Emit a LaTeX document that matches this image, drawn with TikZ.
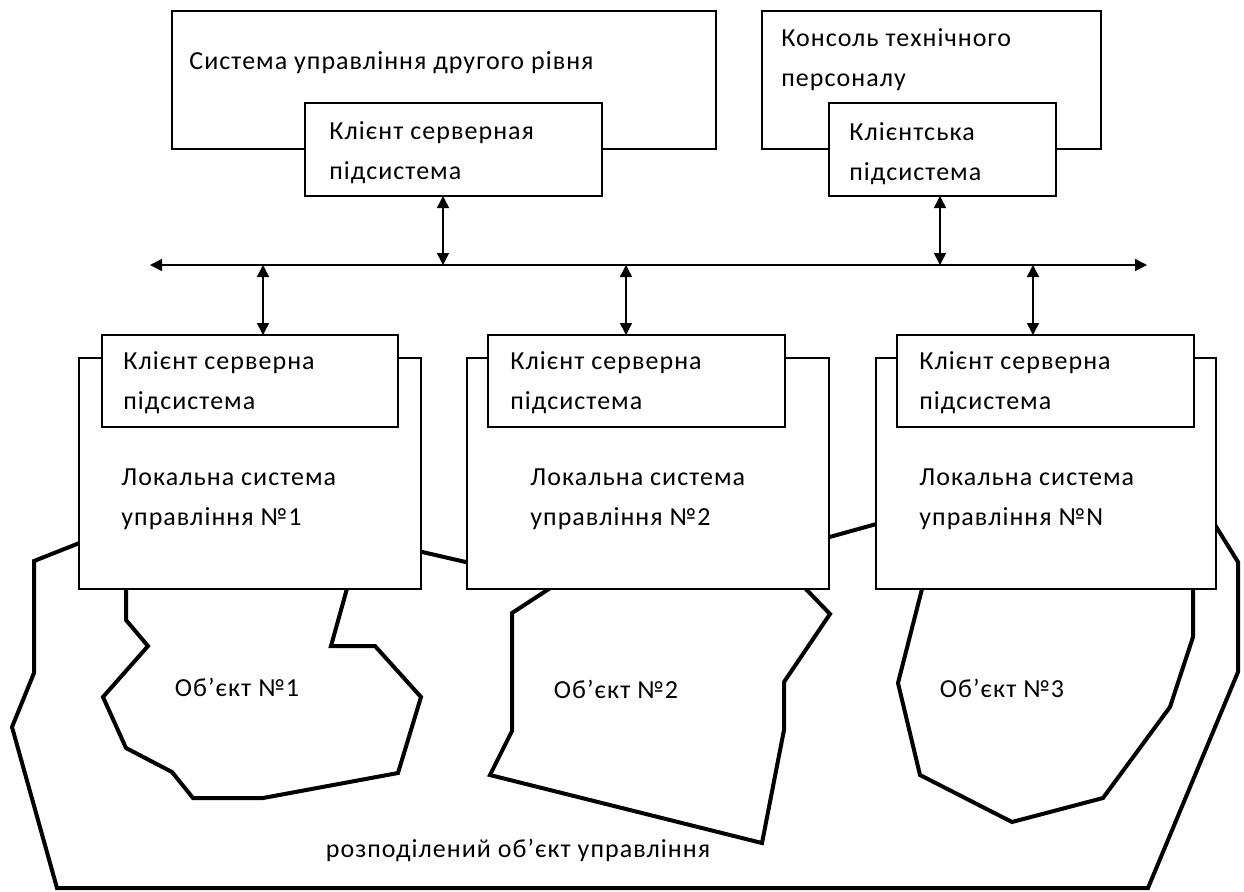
\documentclass[tikz,border=0pt]{standalone}
\usepackage{fontspec}
\setmainfont[LetterSpace=4]{Carlito}
\usetikzlibrary{arrows.meta}

\begin{document}
\begin{tikzpicture}[x=0.5pt,y=-0.5pt,
  box/.style={draw,fill=white,line width=0.75pt,inner sep=0pt,outer sep=0pt},
  lbl/.style={font=\fontsize{13}{20}\selectfont,align=left,inner sep=0pt,anchor=west},
  edge/.style={line width=2pt,line join=miter},
  link/.style={line width=0.75pt,{Triangle[length=6pt,width=6pt]}-{Triangle[length=6pt,width=6pt]}}]
  \useasboundingbox (0,0) rectangle (1244,891);

  % Draw distributed control object
  \draw[edge] (82,542) -- (34,561) -- (34,673) -- (12,727) -- (57,888) -- (1148,888) -- (1238,672) -- (1238,562) -- (1212,520) -- (880,523) -- (826,538) -- (470,563) -- (418,551) -- cycle;
  \node[lbl,anchor=center] (tall) at (518,850) {розподілений об’єкт управління};

  % Draw objects
  \draw[edge] (126,585) -- (126,620) -- (148,646) -- (103,697) -- (126,748) -- (172,772) -- (193,798) -- (263,798) -- (398,773) -- (421,697) -- (375,646) -- (331,646) -- (348,585);
  \draw[edge] (555,585) -- (512,613) -- (512,731) -- (490,775) -- (762,843) -- (784,730) -- (784,682) -- (830,614) -- (802,585);
  \draw[edge] (923,585) -- (898,683) -- (920,775) -- (1012,822) -- (1103,798) -- (1170,707) -- (1193,637) -- (1193,585);
  \node[lbl,anchor=center] (tob1) at (237,687) {Об’єкт №1};
  \node[lbl,anchor=center] (tob2) at (616,689) {Об’єкт №2};
  \node[lbl,anchor=center] (tob3) at (1002,688) {Об’єкт №3};

  % Top level systems
  \node[box,minimum width=272pt,minimum height=69pt] (sys) at (444,80) {};
  \node[lbl] (tsys) at (189,63) {Система управління другого рівня};
  \node[box,minimum width=148.5pt,minimum height=46.5pt] (cs0) at (453.5,149.5) {};
  \node[lbl] (tcs0) at (329,153) {Клієнт серверная\\підсистема};
  \node[box,minimum width=169.5pt,minimum height=69pt] (con) at (931.5,80) {};
  \node[lbl] (tcon) at (781,60) {Консоль технічного\\персоналу};
  \node[box,minimum width=113.5pt,minimum height=46.5pt] (ccl) at (942.5,149.5) {};
  \node[lbl] (tccl) at (849,154) {Клієнтська\\підсистема};

  % Local systems
  \node[box,minimum width=171pt,minimum height=115.5pt] (loc1) at (250,473.5) {};
  \node[box,minimum width=148pt,minimum height=46pt] (cs1) at (250,381) {};
  \node[lbl] (tcs1) at (123,383) {Клієнт серверна\\підсистема};
  \node[lbl] (tloc1) at (121,499) {Локальна система\\управління №1};
  \node[box,minimum width=181pt,minimum height=115.5pt] (loc2) at (648,473.5) {};
  \node[box,minimum width=148.5pt,minimum height=46pt] (cs2) at (636.5,381) {};
  \node[lbl] (tcs2) at (510,383) {Клієнт серверна\\підсистема};
  \node[lbl] (tloc2) at (530,499) {Локальна система\\управління №2};
  \node[box,minimum width=170pt,minimum height=115.5pt] (loc3) at (1046,473.5) {};
  \node[box,minimum width=148.5pt,minimum height=46pt] (cs3) at (1045.5,381) {};
  \node[lbl] (tcs3) at (919,383) {Клієнт серверна\\підсистема};
  \node[lbl] (tloc3) at (919,499) {Локальна система\\управління №N};

  % Bus and links
  \coordinate (busL) at (150,265);
  \coordinate (busR) at (1147,265);
  \draw[link] (busL) -- (busR);
  \draw[link] (cs0.south -| 443,0) -- (busL -| 443,0);
  \draw[link] (ccl.south -| 940,0) -- (busL -| 940,0);
  \draw[link] (busL -| 263,0) -- (cs1.north -| 263,0);
  \draw[link] (busL -| 626,0) -- (cs2.north -| 626,0);
  \draw[link] (busL -| 1033,0) -- (cs3.north -| 1033,0);
\end{tikzpicture}
\end{document}
